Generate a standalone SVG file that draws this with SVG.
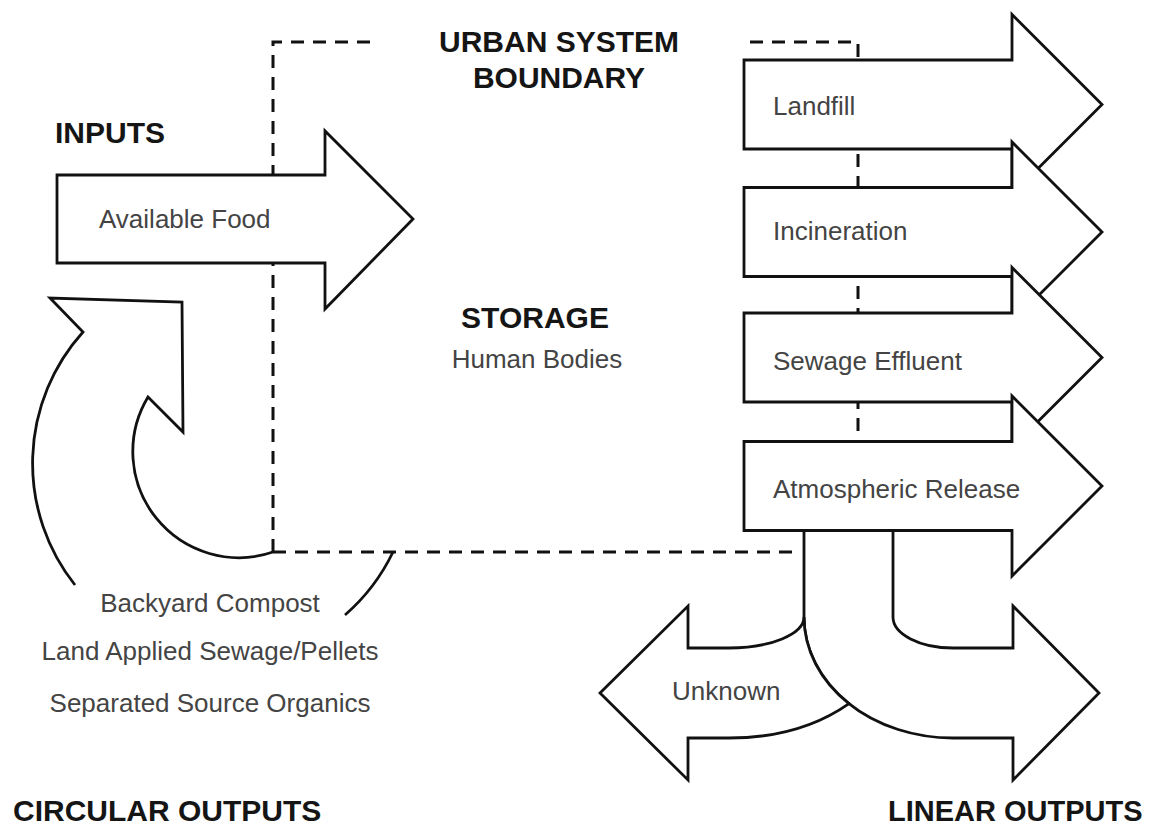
<svg xmlns="http://www.w3.org/2000/svg" width="1164" height="828" viewBox="0 0 1164 828">
<style>
.shape{fill:#fff;stroke:#111;stroke-width:2.8;stroke-linejoin:miter}
.open{fill:none;stroke:#111;stroke-width:2.8;stroke-linejoin:miter}
.dash{fill:none;stroke:#111;stroke-width:3;stroke-dasharray:13 9}
.lbl{font-family:"Liberation Sans",Arial,sans-serif;font-size:26px;fill:#444}
.hd{font-family:"Liberation Sans",Arial,sans-serif;font-size:30px;font-weight:bold;fill:#151515}
.mid{text-anchor:middle}
</style>
<rect width="1164" height="828" fill="#fff"/>
<g id="connectors">
<path class="dash" d="M273,552 V42 H375"/>
<path class="dash" d="M750,42 H858 V500"/>
<path class="dash" d="M273,552 H796"/>
</g>
<g id="circular-arrow">
<path class="open" d="M345,615 A196,196 0 0 0 393,552"/>
<path class="open" d="M75,585 A196,196 0 0 1 83,332 L50,298 L182,302 L183,432 L148,397 A106,106 0 0 0 273,552"/>
</g>
<g id="available-food">
<path class="shape" d="M57,175 H325 V131 L413,219 L325,309 V263 H57 Z"/>
<text class="lbl" x="99" y="228">Available Food</text>
</g>
<g id="linear-split">
<path class="shape" d="M804,528 V617 A149,121 0 0 0 953,738 H1013 V780 L1099,693 L1013,606 V648 H953 A60,31 0 0 1 893,617 V528 Z"/>
</g>
<g id="unknown">
<path class="shape" d="M849,703.6 Q800,738 729,738 H688 V780 L600,693 L688,606 V648 H729 A75,31 0 0 0 804,617 A149,121 0 0 0 849,703.6 Z"/>
<text class="lbl" x="672" y="700">Unknown</text>
</g>
<g id="landfill">
<path class="shape" d="M744,60 H1012 V14.5 L1102,104.5 L1012,194.5 V149 H744 Z"/>
<text class="lbl" x="773" y="115">Landfill</text>
</g>
<g id="incineration">
<path class="shape" d="M744,187.5 H1012 V142 L1102,232 L1012,322 V276.5 H744 Z"/>
<text class="lbl" x="773" y="240">Incineration</text>
</g>
<g id="sewage-effluent">
<path class="shape" d="M744,313 H1012 V267.5 L1102,357.5 L1012,447.5 V402 H744 Z"/>
<text class="lbl" x="773" y="370">Sewage Effluent</text>
</g>
<g id="atmospheric-release">
<path class="shape" d="M744,441.5 H1012 V396 L1102,486 L1012,576 V530.5 H744 Z"/>
<text class="lbl" x="773" y="498">Atmospheric Release</text>
</g>
<g id="labels">
<text class="hd mid" x="559" y="52">URBAN SYSTEM</text>
<text class="hd mid" x="559" y="88">BOUNDARY</text>
<text class="hd" x="55" y="143">INPUTS</text>
<text class="hd mid" x="535" y="328">STORAGE</text>
<text class="lbl mid" x="537" y="368">Human Bodies</text>
<text class="lbl mid" x="210" y="612">Backyard Compost</text>
<text class="lbl mid" x="210" y="660">Land Applied Sewage/Pellets</text>
<text class="lbl mid" x="210" y="712">Separated Source Organics</text>
<text class="hd" x="13" y="821">CIRCULAR OUTPUTS</text>
<text class="hd" x="888" y="821" style="font-size:29px">LINEAR OUTPUTS</text>
</g>
</svg>
